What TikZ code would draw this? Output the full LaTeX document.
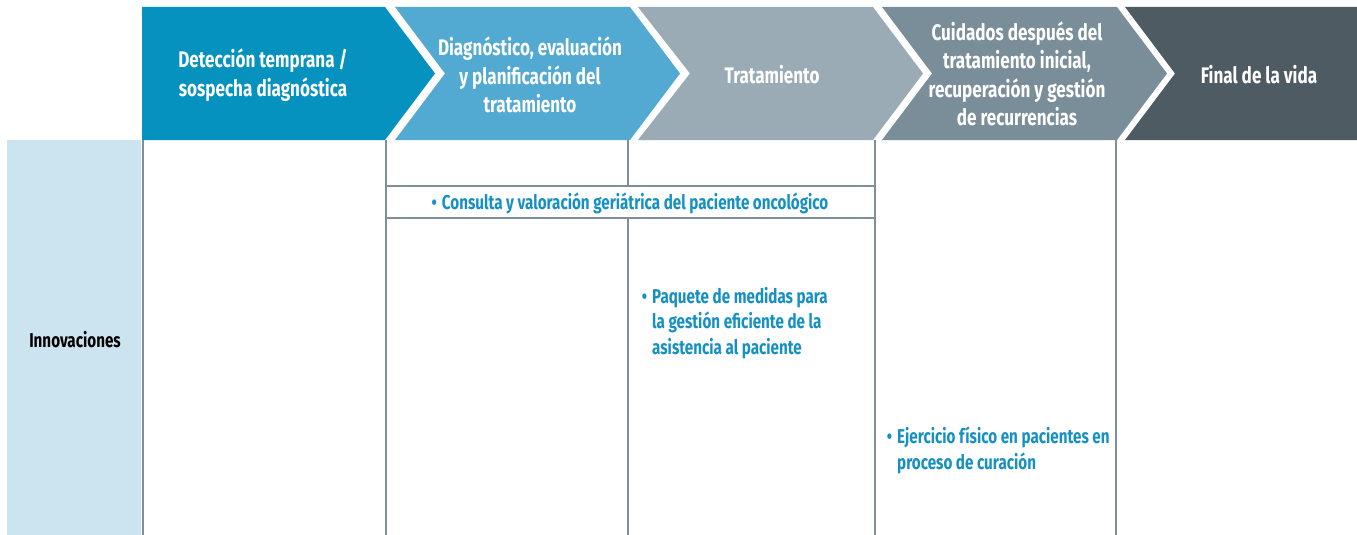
\documentclass[tikz,border=0pt]{standalone}
\usepackage{fontspec}
\setmainfont{Fira Sans}[FakeStretch=0.76]
\definecolor{cA}{HTML}{0592BE}
\definecolor{cB}{HTML}{52A9D1}
\definecolor{cC}{HTML}{9AABB5}
\definecolor{cD}{HTML}{7A8E99}
\definecolor{cE}{HTML}{4E5B62}
\definecolor{leftbg}{HTML}{CCE3F0}
\definecolor{gridc}{HTML}{7F8F99}
\definecolor{itemc}{HTML}{1690C2}
\tikzset{
  hdr/.style={text=white, align=center, inner sep=0pt, font=\bfseries\fontsize{22.5}{28.5}\selectfont},
  rowlab/.style={text=black, align=center, inner sep=0pt, font=\bfseries\fontsize{20}{24}\selectfont},
  item/.style={text=itemc, align=left, inner sep=0pt, font=\bfseries\fontsize{20}{25.5}\selectfont},
  gridline/.style={draw=gridc, line width=2pt},
}
\begin{document}
\begin{tikzpicture}[x=1pt,y=-1pt]
\useasboundingbox (0,0) rectangle (1357,535);
% left column
\fill[leftbg] (7,140) rectangle (141,535);
% chevrons
\fill[cA] (142,7) -- (385,7) -- (435,73.5) -- (385,140) -- (142,140) -- cycle;
\fill[cB] (395,7) -- (630,7) -- (680,73.5) -- (630,140) -- (395,140) -- (445,73.5) -- cycle;
\fill[cC] (638,7) -- (873,7) -- (923,73.5) -- (873,140) -- (638,140) -- (690,73.5) -- cycle;
\fill[cD] (882,7) -- (1117,7) -- (1167,73.5) -- (1117,140) -- (882,140) -- (932,73.5) -- cycle;
\fill[cE] (1125,7) -- (1357,7) -- (1357,140) -- (1125,140) -- (1175,73.5) -- cycle;
% grid lines
\draw[gridline] (143,140) -- (143,535);
\draw[gridline] (386,140) -- (386,535);
\draw[gridline] (628,140) -- (628,186);
\draw[gridline] (628,218) -- (628,535);
\draw[gridline] (875,140) -- (875,535);
\draw[gridline] (1116,140) -- (1116,535);
\draw[gridline] (386,186) -- (875,186);
\draw[gridline] (386,218) -- (875,218);
% header texts
\node[hdr] (h1) at (263,75) {Detección temprana /\\sospecha diagnóstica};
\node[hdr] (h2) at (530,75) {Diagnóstico, evaluación\\y planificación del\\tratamiento};
\node[hdr] (h3) at (772,75) {Tratamiento};
\node[hdr] (h4) at (1017,74) {Cuidados después del\\tratamiento inicial,\\recuperación y gestión\\de recurrencias};
\node[hdr] (h5) at (1259,75) {Final de la vida};
% row label
\node[rowlab] (inn) at (75,340) {Innovaciones};
% items
\node[item] (i1) at (630,203) {\textbullet\hspace{5pt}Consulta y valoración geriátrica del paciente oncológico};
\node[item, anchor=north west] (i2) at (652,287) {\llap{\textbullet\hspace{5pt}}Paquete de medidas para\\la gestión eficiente de la\\asistencia al paciente};
\node[item, anchor=north west] (i3) at (897,427) {\llap{\textbullet\hspace{5pt}}Ejercicio físico en pacientes en\\proceso de curación};
\end{tikzpicture}
\end{document}
